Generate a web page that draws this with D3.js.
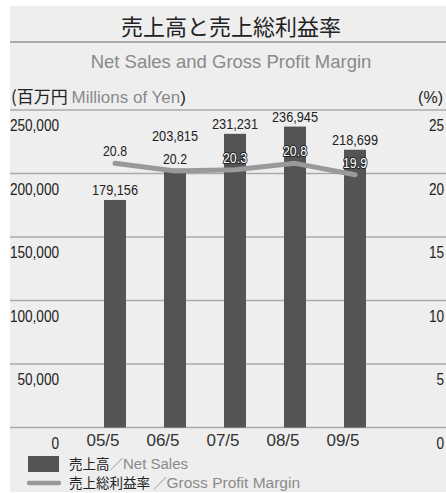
<!doctype html>
<html>
<head>
<meta charset="utf-8">
<script src="https://cdn.jsdelivr.net/npm/d3@7/dist/d3.min.js"></script>
<style>
  body { margin: 0; background: #fff; }
  text { font-family: "Liberation Sans", Arial, sans-serif; }
  .jp { font-family: "Noto Sans CJK JP", sans-serif; }
</style>
</head>
<body>
<svg id="chart"></svg>
<script>
var categories = ["05/5", "06/5", "07/5", "08/5", "09/5"];
var netSales = [179156, 203815, 231231, 236945, 218699];
var grossMargin = [20.8, 20.2, 20.3, 20.8, 19.9];
var leftTicks = [0, 50000, 100000, 150000, 200000, 250000];
var rightTicks = [0, 5, 10, 15, 20, 25];

var width = 446, height = 493;
var svg = d3.select("#chart").attr("width", width).attr("height", height);
var narrow = 0.85; // no condensed face installed, squeeze horizontally

// panel
svg.append("rect").attr("x", 10).attr("y", 6).attr("width", 436).attr("height", 486).attr("fill", "#eeeeee");

svg.append("text").attr("class", "jp").attr("x", 231).attr("y", 35)
   .attr("text-anchor", "middle").style("font-size", "22px").attr("fill", "#222")
   .text("売上高と売上総利益率");
svg.append("line").attr("x1", 10).attr("x2", 446).attr("y1", 42).attr("y2", 42)
   .attr("stroke", "#aaaaaa").attr("stroke-width", 2);
svg.append("text").attr("x", 231).attr("y", 68)
   .attr("text-anchor", "middle").style("font-size", "18.5px").attr("fill", "#8a8a8a")
   .text("Net Sales and Gross Profit Margin");

var unit = svg.append("text").attr("x", 11).attr("y", 103).style("font-size", "17px").attr("fill", "#222");
unit.append("tspan").attr("class", "jp").text("(百万円 ");
unit.append("tspan").attr("fill", "#8a8a8a").text("Millions of Yen");
unit.append("tspan").text(")");
svg.append("text").attr("x", 443).attr("y", 103).attr("text-anchor", "end")
   .style("font-size", "16px").attr("fill", "#222").text("(%)");

var y = d3.scaleLinear().domain([0, 250000]).range([427.5, 110]);
var y2 = d3.scaleLinear().domain([0, 25]).range([427.5, 110]);
var x = d3.scaleBand().domain(categories).range([85, 385]).paddingInner(38 / 60).paddingOuter(19 / 60);
var cx = function(c) { return x(c) + x.bandwidth() / 2; };
var squeeze = (px, py) => "translate(" + px + "," + py + ") scale(" + narrow + ",1)";

// grid
svg.selectAll("line.grid").data(leftTicks).enter().append("line").attr("class", "grid")
   .attr("x1", 10).attr("x2", 446).attr("y1", d => y(d)).attr("y2", d => y(d))
   .attr("stroke", "#aaaaaa").attr("stroke-width", 1.5);

svg.selectAll("text.yl").data(leftTicks).enter().append("text").attr("class", "yl")
   .attr("transform", d => squeeze(59, y(d) + 21)).attr("text-anchor", "end")
   .style("font-size", "16px").attr("fill", "#222").text(d => d3.format(",")(d));
svg.selectAll("text.yr").data(rightTicks).enter().append("text").attr("class", "yr")
   .attr("transform", d => squeeze(444, y2(d) + 21)).attr("text-anchor", "end")
   .style("font-size", "16px").attr("fill", "#222").text(d => d);

// bars
svg.selectAll("rect.bar").data(categories).enter().append("rect").attr("class", "bar")
   .attr("x", d => x(d)).attr("width", x.bandwidth())
   .attr("y", (d, i) => y(netSales[i])).attr("height", (d, i) => y(0) - y(netSales[i]))
   .attr("fill", "#545456");

svg.selectAll("text.xl").data(categories).enter().append("text").attr("class", "xl")
   .attr("x", d => cx(d) - 12).attr("y", 446).attr("text-anchor", "middle")
   .style("font-size", "17px").attr("fill", "#333").text(d => d);

// margin line
var line = d3.line().x((d, i) => cx(categories[i])).y(d => y2(d));
svg.append("path").datum(grossMargin).attr("d", line).attr("fill", "none")
   .attr("stroke", "#999999").attr("stroke-width", 5).attr("stroke-linecap", "round").attr("stroke-linejoin", "round");

var mBase = grossMargin.map(v => y2(v) - 7);
var onBar = (d, i) => mBase[i] > y(netSales[i]);
svg.selectAll("text.ml").data(grossMargin).enter().append("text").attr("class", "ml")
   .attr("transform", (d, i) => squeeze(cx(categories[i]), mBase[i])).attr("text-anchor", "middle")
   .style("font-size", "14.5px")
   .attr("fill", (d, i) => onBar(d, i) ? "#fff" : "#222")
   .attr("stroke", (d, i) => onBar(d, i) ? "#222" : "#eee")
   .attr("stroke-width", 2).attr("stroke-linejoin", "round").attr("paint-order", "stroke")
   .text(d => d.toFixed(1));

svg.selectAll("text.vl").data(netSales).enter().append("text").attr("class", "vl")
   .attr("transform", (d, i) => {
     var top = y(d), b = top - 5;
     if (mBase[i] < top && mBase[i] > top - 25) b = mBase[i] - 23;
     return squeeze(cx(categories[i]), b);
   })
   .attr("text-anchor", "middle").style("font-size", "15px").attr("fill", "#222")
   .text(d => d3.format(",")(d));

// legend
svg.append("rect").attr("x", 28).attr("y", 456).attr("width", 31).attr("height", 16).attr("fill", "#545456");
svg.append("line").attr("x1", 29).attr("x2", 59).attr("y1", 483).attr("y2", 483)
   .attr("stroke", "#999999").attr("stroke-width", 4.5).attr("stroke-linecap", "round");
var l1 = svg.append("text").attr("x", 69).attr("y", 469).style("font-size", "13.5px").attr("fill", "#222");
l1.append("tspan").attr("class", "jp").text("売上高");
l1.append("tspan").attr("class", "jp").attr("fill", "#8a8a8a").text("／");
l1.append("tspan").attr("fill", "#8a8a8a").style("font-size", "15px").text("Net Sales");
var l2 = svg.append("text").attr("x", 69).attr("y", 488).style("font-size", "13.5px").attr("fill", "#222");
l2.append("tspan").attr("class", "jp").text("売上総利益率 ");
l2.append("tspan").attr("class", "jp").attr("fill", "#8a8a8a").text("／");
l2.append("tspan").attr("fill", "#8a8a8a").style("font-size", "15.5px").text("Gross Profit Margin");
</script>
</body>
</html>
